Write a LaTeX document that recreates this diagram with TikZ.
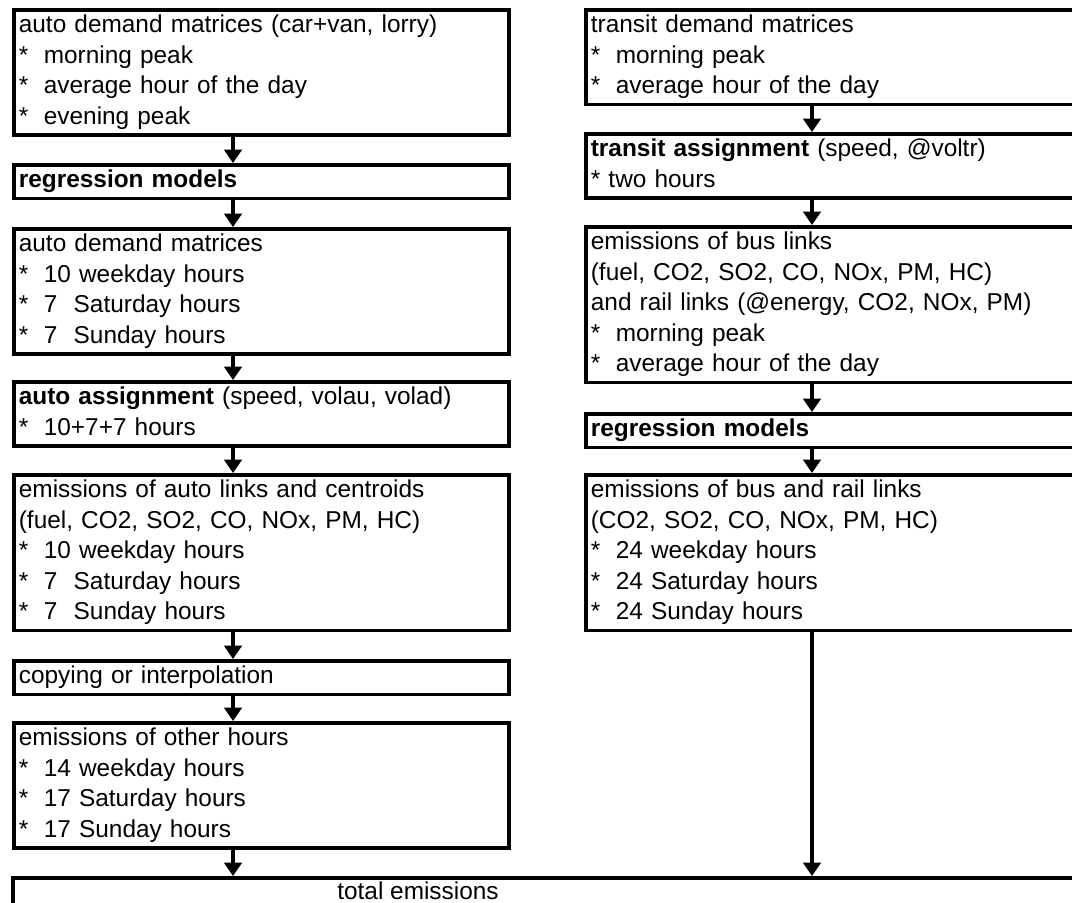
\documentclass[tikz,border=0pt]{standalone}
\usepackage{fontspec}
\setmainfont{Liberation Sans}
\usetikzlibrary{arrows.meta}
\newcommand{\bl}[1]{\makebox[18.75pt][l]{*}#1}
\begin{document}
\begin{tikzpicture}[x=0.75pt,y=-0.75pt,
  fbox/.style={draw, line width=2.8pt, rectangle, anchor=north west,
    inner xsep=3.75pt, inner ysep=1.125pt, align=left,
    font=\fontsize{18.3}{22.9}\selectfont,
    execute at begin node=\strut, execute at end node=\strut},
  lbox/.style={fbox, text width=363.75pt},
  rbox/.style={fbox, text width=372pt},
  arr/.style={line width=2.8pt, -{Triangle[width=13pt,length=10pt]}}]
\useasboundingbox[fill=white] (0,0) rectangle (1072,903);
\clip (0,0) rectangle (1072,903);
\coordinate (lx) at (233,0);
\coordinate (rx) at (812,0);
% left column
\node[lbox] (b1) at (12,8) {auto demand matrices (car+van, lorry)\\\bl{morning peak}\\\bl{average hour of the day}\\\bl{evening peak}};
\node[lbox] (b2) at (12,163) {\textbf{regression models}};
\node[lbox] (b3) at (12,227) {auto demand matrices\\\bl{10 weekday hours}\\\bl{7\ \ Saturday hours}\\\bl{7\ \ Sunday hours}};
\node[lbox] (b4) at (12,380) {\textbf{auto assignment} (speed, volau, volad)\\\bl{10+7+7 hours}};
\node[lbox] (b5) at (12,473) {emissions of auto links and centroids\\(fuel, CO2, SO2, CO, NOx, PM, HC)\\\bl{10 weekday hours}\\\bl{7\ \ Saturday hours}\\\bl{7\ \ Sunday hours}};
\node[lbox] (b6) at (12,659) {copying or interpolation};
\node[lbox] (b7) at (12,721) {emissions of other hours\\\bl{14 weekday hours}\\\bl{17 Saturday hours}\\\bl{17 Sunday hours}};
% right column
\node[rbox] (r1) at (584,8) {transit demand matrices\\\bl{morning peak}\\\bl{average hour of the day}};
\node[rbox] (r2) at (584,132) {\textbf{transit assignment} (speed, @voltr)\\{*} two hours};
\node[rbox] (r3) at (584,225) {emissions of bus links\\(fuel, CO2, SO2, CO, NOx, PM, HC)\\and rail links (@energy, CO2, NOx, PM)\\\bl{morning peak}\\\bl{average hour of the day}};
\node[rbox] (r4) at (584,412) {\textbf{regression models}};
\node[rbox] (r5) at (584,473) {emissions of bus and rail links\\(CO2, SO2, CO, NOx, PM, HC)\\\bl{24 weekday hours}\\\bl{24 Saturday hours}\\\bl{24 Sunday hours}};
% total
\node[draw, line width=2.8pt, rectangle, anchor=north west, inner sep=0pt,
  minimum width=810pt, minimum height=45pt] (tot) at (11,876) {};
\node[anchor=base, inner sep=0pt, font=\fontsize{18.3}{22.9}\selectfont] (tottxt) at (418,899) {total emissions};
% connectors
\foreach \a/\b in {b1/b2,b2/b3,b3/b4,b4/b5,b5/b6,b6/b7,b7/tot}
  \draw[arr] (\a.south -| lx) -- (\b.north -| lx);
\foreach \a/\b in {r1/r2,r2/r3,r3/r4,r4/r5,r5/tot}
  \draw[arr] (\a.south -| rx) -- (\b.north -| rx);
\end{tikzpicture}
\end{document}
